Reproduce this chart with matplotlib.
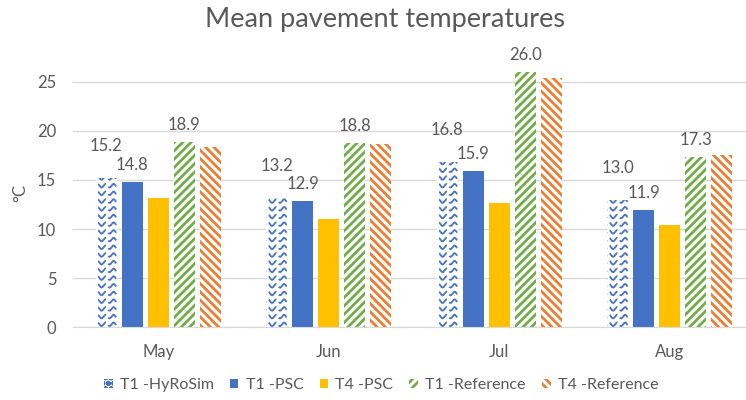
import numpy as np
import matplotlib
matplotlib.use("Agg")
import matplotlib.pyplot as plt
from matplotlib.patches import Patch
from matplotlib.lines import Line2D
from matplotlib.transforms import IdentityTransform

months = ["May", "Jun", "Jul", "Aug"]
hyrosim_t1 = [15.2, 13.2, 16.8, 13.0]
psc_t1 = [14.8, 12.9, 15.9, 11.9]
psc_t4 = [13.2, 11.0, 12.6, 10.4]
ref_t1 = [18.9, 18.8, 26.0, 17.3]
ref_t4 = [18.3, 18.7, 25.4, 17.5]
yticks = [0, 5, 10, 15, 20, 25]

BLUE, YELLOW, GREEN, ORANGE = "#4472C4", "#FFC000", "#70AD47", "#ED7D31"
GREY = "#595959"

plt.rcParams["font.family"] = ["Lato", "DejaVu Sans"]
plt.rcParams["hatch.linewidth"] = 2.0

fig = plt.figure(figsize=(7.46, 4.0), dpi=100)
ax = fig.add_axes([73 / 746, 0.1818, 682 / 746, 0.6877])
ax.set_xlim(-0.5, len(months) - 0.5)
ax.set_ylim(0, 28)

x = np.arange(len(months))
w = 21 / 170
step = 26 / 170

bars_h = ax.bar(x - 2 * step, hyrosim_t1, w, color="white", linewidth=0, zorder=2)
bars_p1 = ax.bar(x - step, psc_t1, w, color=BLUE, linewidth=0, zorder=2)
bars_p4 = ax.bar(x, psc_t4, w, color=YELLOW, linewidth=0, zorder=2)
bars_r1 = ax.bar(x + step, ref_t1, w, color="white", edgecolor=GREEN,
                 hatch="////", linewidth=0, zorder=2)
bars_r4 = ax.bar(x + 2 * step, ref_t4, w, color="white", edgecolor=ORANGE,
                 hatch="\\\\\\\\", linewidth=0, zorder=2)

# wave pattern for the HyRoSim bars, drawn in pixel space and clipped to each bar
for rect in bars_h:
    bb = rect.get_window_extent()
    xs = np.linspace(bb.x0 - 8, bb.x1 + 8, 200)
    for yr in np.arange(bb.y0 + 3, bb.y1 + 4, 7.7):
        ys = yr + 1.8 * np.sin(2 * np.pi * (xs - bb.x0) / 8.0)
        ln = Line2D(xs, ys, color=BLUE, lw=1.3, transform=IdentityTransform(),
                    dashes=(6, 2), zorder=3)
        ax.add_artist(ln)
        ln.set_clip_path(rect)

for bars, vals, off in [(bars_h, hyrosim_t1, 23), (bars_p1, psc_t1, 12.2),
                        (bars_r1, ref_t1, 12.2)]:
    for rect, v in zip(bars, vals):
        ax.annotate(f"{v:.1f}", (rect.get_x() + rect.get_width() / 2, v),
                    xytext=(0, off), textcoords="offset points",
                    ha="center", va="center", fontsize=12, color=GREY)

ax.set_yticks(yticks)
ax.set_xticks(x)
ax.set_xticklabels(months)
ax.yaxis.grid(True, color="#D9D9D9", lw=1)
ax.set_axisbelow(True)
for s in ["top", "right", "left"]:
    ax.spines[s].set_visible(False)
ax.spines["bottom"].set_color("#D9D9D9")
ax.tick_params(axis="both", length=0, labelsize=12, labelcolor=GREY)
ax.tick_params(axis="x", pad=12)
ax.tick_params(axis="y", pad=12)

fig.text(20 / 746, 1 - 193 / 400, "°C", rotation=90, ha="center", va="center",
         fontsize=12, color=GREY)
fig.text(385 / 746, 1 - 20 / 400, "Mean pavement temperatures", ha="center",
         va="center", fontsize=19.5, color=GREY)

handles = [
    Patch(facecolor="white", edgecolor=BLUE, hatch="ooo", linewidth=0),
    Patch(facecolor=BLUE, linewidth=0),
    Patch(facecolor=YELLOW, linewidth=0),
    Patch(facecolor="white", edgecolor=GREEN, hatch="////", linewidth=0),
    Patch(facecolor="white", edgecolor=ORANGE, hatch="\\\\\\\\", linewidth=0),
]
labels = ["T1 -HyRoSim", "T1 -PSC", "T4 -PSC", "T1 -Reference", "T4 -Reference"]
fig.legend(handles, labels, loc="center", bbox_to_anchor=(381 / 746, 1 - 385 / 400),
           ncol=5, frameon=False, fontsize=11.5, labelcolor=GREY,
           handlelength=0.55, handleheight=0.55, handletextpad=0.45, columnspacing=1.0)

fig.savefig("out.png", dpi=100)
